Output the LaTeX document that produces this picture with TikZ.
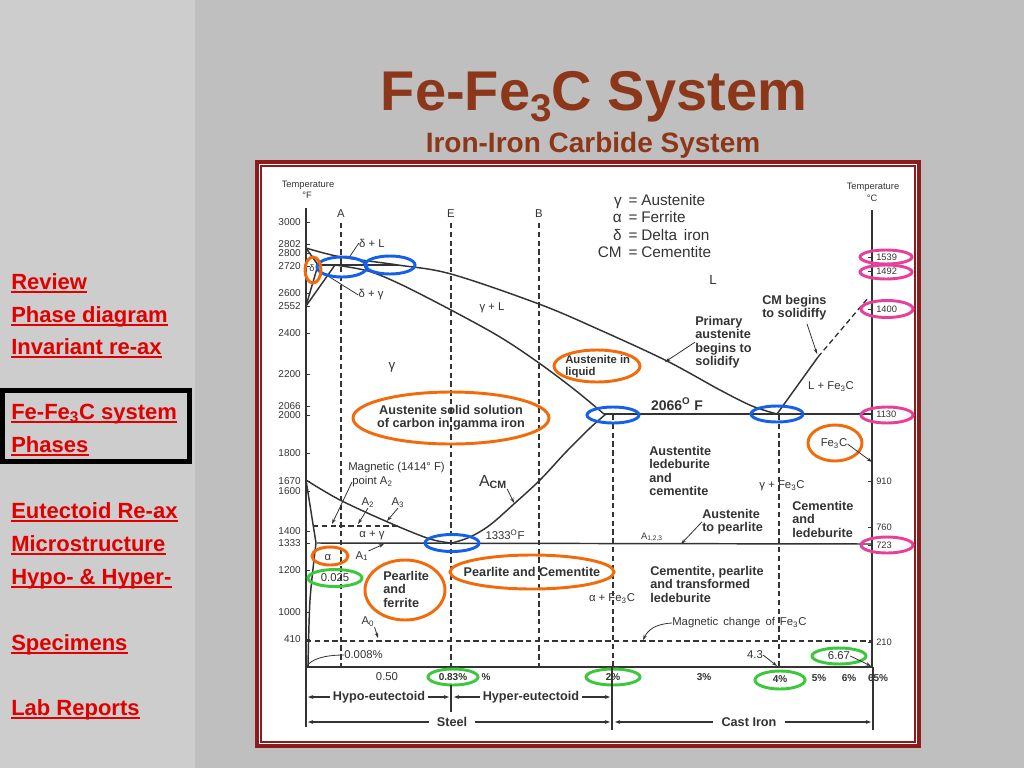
\documentclass[tikz,border=0pt]{standalone}
\usepackage{fontspec}
\setmainfont{Liberation Sans}
\usetikzlibrary{arrows.meta}
\definecolor{bgmain}{HTML}{BFBFBF}
\definecolor{bgside}{HTML}{CDCDCD}
\definecolor{titlec}{HTML}{8C3719}
\definecolor{linkc}{HTML}{E00000}
\definecolor{framec}{HTML}{8E1B1B}
\definecolor{ink}{HTML}{333333}
\definecolor{orng}{HTML}{F26A0A}
\definecolor{blu}{HTML}{1560E8}
\definecolor{grn}{HTML}{3CC83C}
\definecolor{pnk}{HTML}{E8409A}
\begin{document}
\begin{tikzpicture}[x=0.75pt,y=-0.75pt,
  link/.style={font=\fontsize{16.5}{18}\selectfont\bfseries, text=linkc, anchor=base west, inner sep=0},
  curve/.style={draw=ink, line width=1.1pt},
  axisln/.style={draw=ink, line width=1pt},
  dline/.style={draw=ink, line width=0.9pt, dash pattern=on 4pt off 2.6pt},
  tx/.style={text=ink, inner sep=0, font=\fontsize{8.5}{10}\selectfont},
  txs/.style={text=ink, inner sep=0, font=\fontsize{7}{8}\selectfont},
  tnum/.style={text=ink, inner sep=0, font=\fontsize{7.5}{8}\selectfont},
  bx/.style={text=ink, inner sep=0, align=left, font=\fontsize{9.5}{10}\selectfont\bfseries},
  bxc/.style={text=ink, inner sep=0, align=center, font=\fontsize{9.5}{9.6}\selectfont\bfseries},
  pct/.style={text=ink, inner sep=0, font=\fontsize{7.5}{8}\selectfont\bfseries},
  leg/.style={text=ink, inner sep=0, font=\fontsize{11.5}{12}\selectfont},
  lead/.style={draw=ink, line width=0.6pt, -{Stealth[length=4pt,width=2.6pt]}},
  barr/.style={draw=ink, line width=0.8pt, -{Stealth[length=4pt,width=3pt]}},
  ringo/.style={draw=orng, line width=2.2pt},
  ringb/.style={draw=blu, line width=2.2pt},
  ringg/.style={draw=grn, line width=2.2pt},
  ringp/.style={draw=pnk, line width=2.2pt}]
\useasboundingbox (0,0) rectangle (1024,768);
% background
\fill[bgmain] (0,0) rectangle (1024,768);
\fill[bgside] (0,0) rectangle (195,768);

% title
\node[font=\fontsize{42}{48}\selectfont\bfseries, text=titlec, anchor=base, inner sep=0] (title) at (594,110) {Fe-Fe\raisebox{-0.2em}{\fontsize{29}{30}\selectfont 3}C System};
\node[font=\fontsize{21}{24}\selectfont\bfseries, text=titlec, anchor=base, inner sep=0] (subtitle) at (593,152) {Iron-Iron Carbide System};

% sidebar
\node[link] (l1) at (11,289) {Review};
\node[link] (l2) at (11,322) {Phase diagram};
\node[link] (l3) at (11,354) {Invariant re-ax};
\node[link] (l4) at (11,419) {Fe-Fe\textsubscript{3}C system};
\node[link] (l5) at (11,452) {Phases};
\node[link] (l6) at (11,518) {Eutectoid Re-ax};
\node[link] (l7) at (11,551) {Microstructure};
\node[link] (l8) at (11,584) {Hypo- \& Hyper-};
\node[link] (l9) at (11,650) {Specimens};
\node[link] (l10) at (11,715) {Lab Reports};
\foreach \n in {l1,l2,l3,l4,l5,l6,l7,l8,l9,l10}
  \draw[linkc, line width=1.5pt] ([yshift=-2.3pt]\n.base west) -- ([yshift=-2.3pt]\n.base east);
\draw[black, line width=3.8pt] (2.5,390.5) rectangle (189.5,461.5);

% frame
\fill[white] (257,162) rectangle (919,746);
\draw[framec, line width=2.3pt] (257,162) rectangle (919,746);
\draw[framec, line width=2pt] (261,166) rectangle (915,742);

% axes
\draw[axisln] (306,208) -- (306,667) -- (873,667);
\draw[axisln] (872,210) -- (872,667);
\node[txs] (tf1) at (308,185) {Temperature};
\node[txs] (tf2) at (307,195) {°F};
\node[txs] (tc1) at (873,187) {Temperature};
\node[txs] (tc2) at (872,198) {°C};
\foreach \v/\y in {3000/222,2802/244,2800/253,2720/266,2600/293,2552/306,2400/333,2200/374,2066/406,2000/415,1800/453,1670/481,1600/491,1400/531,1333/543,1200/570,1000/612,410/639}{
  \draw[ink, line width=0.6pt] (306,\y) -- (310,\y);
  \node[tnum, anchor=east] at (301,\y) {\v};
}
\foreach \v/\y in {1539/257,1492/271,1400/309,1130/414,910/481,760/527,723/545,210/642}{
  \draw[ink, line width=0.6pt] (868,\y) -- (872,\y);
  \node[txs, anchor=west] at (876,\y) {\v};
}

% legend
\node[leg, anchor=base east] (lg1) at (622,205) {γ};
\node[leg, anchor=base] (lg1e) at (633,205) {=};
\node[leg, anchor=base west] (lg1t) at (641,205) {Austenite};
\node[leg, anchor=base east] (lg2) at (622,222) {α};
\node[leg, anchor=base] (lg2e) at (633,222) {=};
\node[leg, anchor=base west] (lg2t) at (641,222) {Ferrite};
\node[leg, anchor=base east] (lg3) at (622,240) {δ};
\node[leg, anchor=base] (lg3e) at (633,240) {=};
\node[leg, anchor=base west] (lg3t) at (641,240) {Delta\, iron};
\node[leg, anchor=base east] (lg4) at (622,257) {CM};
\node[leg, anchor=base] (lg4e) at (633,257) {=};
\node[leg, anchor=base west] (lg4t) at (641,257) {Cementite};

% vertical dashed lines
\node[tx] (la) at (341,214) {A};
\node[tx] (le) at (451,214) {E};
\node[tx] (lb) at (539,214) {B};
\draw[dline] (341,223) -- (341,667);
\draw[dline] (451,223) -- (451,667);
\draw[dline] (539,223) -- (539,667);
\draw[dline] (613,415) -- (613,667);
\draw[dline] (779,415) -- (779,667);
% horizontal dashed
\draw[dline] (313,526) -- (400,526);
\draw[dline] (306,641) -- (872,641);

% solid horizontals
\draw[curve] (317,543) -- (872,544);
\draw[curve] (604,414) -- (872,414);
\draw[curve] (318,265) -- (398,265);

% curves
\draw[curve] plot[smooth, tension=0.55] coordinates {(306,248) (341,257) (398,265) (451,274) (539,304) (600,330) (667,361) (720,390) (752,406) (777,414)};
\draw[curve] plot[smooth, tension=0.55] coordinates {(335,265) (368,271) (400,284) (451,310) (500,337) (539,363) (575,390) (604,414)};
\draw[curve] (306,248) -- (318,265);
\draw[curve] (306,306) -- (318,265);
\draw[curve] (306,306) -- (335,265);
\draw[curve] plot[smooth, tension=0.55] coordinates {(306,480) (340,500) (390,523) (430,539) (452,543)};
\draw[curve] (306,480) -- (316,543);
\draw[curve] plot[smooth, tension=0.5] coordinates {(316,543) (310,600) (308,667)};
\draw[curve] plot[smooth, tension=0.55] coordinates {(452,543) (470,537) (490,525) (515,503) (540,480) (566,452) (590,428) (606,414)};
\draw[curve] (777,414) -- (818,357);
\draw[dline, line width=1pt] (818,357) -- (868,298);

% phase labels
\node[tx] (dl) at (372,243) {δ + L};
\coordinate (dlto) at (348,259);
\draw[ink, line width=0.6pt] (dl.west) -- (dlto);
\node[tx] (dg) at (371,295) {δ + γ};
\coordinate (dgto) at (328,276);
\draw[ink, line width=0.6pt] (dg.west) -- (dgto);
\node[txs] (dd) at (312,268) {δ};
\node[tx, font=\fontsize{10}{11}\selectfont] (liq) at (713,280) {L};
\node[tx] (gl) at (492,308) {γ + L};
\node[tx, font=\fontsize{10}{11}\selectfont] (gam) at (392,367) {γ};

% annotations
\node[bx, anchor=north west] (prim) at (695,316) {Primary\\austenite\\begins to\\solidify};
\coordinate (primto) at (665,362);
\draw[lead] (prim.west) -- (primto);
\node[bx, anchor=north west] (cmb) at (762,295) {CM begins\\to solidiffy};
\coordinate (cmbfrom) at (807,324);
\coordinate (cmbto) at (817,354);
\draw[lead] (cmbfrom) -- (cmbto);
\node[tx] (lfe) at (831,387) {L + Fe\textsubscript{3}C};
\node[tx, font=\fontsize{10.5}{11}\selectfont\bfseries] (t2066) at (677,404) {2066\textsuperscript{O} F};
\node[bx, font=\fontsize{8.5}{9}\selectfont\bfseries, anchor=north west] (ail) at (565,355) {Austenite in\\liquid};
\draw[ringo] (597,366) ellipse [x radius=43, y radius=16];
\node[bxc] (ass) at (451,418) {Austenite solid solution\\of carbon in gamma iron};
\draw[ringo] (451,418) ellipse [x radius=98, y radius=26];

\node[tx] (fe3c) at (834,444) {Fe\textsubscript{3}C};
\draw[ringo] (835,443) ellipse [x radius=27, y radius=18];
\coordinate (fe3cto) at (872,462);
\draw[lead] (fe3c.east) -- (fe3cto);

\node[bx, anchor=north west] (alc) at (649,446) {Austentite\\ledeburite\\and\\cementite};
\node[tx] (gfe) at (782,486) {γ + Fe\textsubscript{3}C};
\node[bx, anchor=north west] (cal) at (792,501) {Cementite\\and\\ledeburite};
\node[bx, anchor=north west] (atp) at (702,509) {Austenite\\to pearlite};
\coordinate (atpto) at (681,544);
\draw[lead] (atp.west) -- (atpto);
\node[txs] (a123) at (652,537) {A\textsubscript{1,2,3}};

\node[tx, anchor=west] (mag1) at (348,468) {Magnetic (1414° F)};
\node[tx, anchor=west] (mag2) at (352,482) {point A\textsubscript{2}};
\coordinate (magto) at (332,524);
\draw[lead] (mag2.west) -- (magto);
\node[tx] (a2) at (368,503) {A\textsubscript{2}};
\coordinate (a2to) at (358,524);
\draw[lead] (a2.south) -- (a2to);
\node[tx] (a3) at (398,503) {A\textsubscript{3}};
\coordinate (a3to) at (387,521);
\draw[lead] (a3.south) -- (a3to);
\node[tx] (ag) at (372,535) {α + γ};
\node[tx] (a1) at (362,556) {A\textsubscript{1}};
\coordinate (a1to) at (384,544);
\draw[lead] (a1.north east) -- (a1to);
\node[tx] (alf) at (328,557) {α};
\draw[ringo] (330,556) ellipse [x radius=18, y radius=9];
\node[tx] (p025) at (335,578) {0.025};
\draw[ringg] (335,578) ellipse [x radius=27, y radius=8.5];

\node[tx, font=\fontsize{12}{13}\selectfont] (acm) at (493,482) {A\textsubscript{\bfseries CM}};
\coordinate (acmto) at (514,503);
\draw[lead] (acm.south east) -- (acmto);
\node[tx] (t1333) at (505,535) {1333\textsuperscript{O}F};
\draw[ringb] (452,543) ellipse [x radius=27, y radius=8.5];

\node[bx, anchor=north west] (pf) at (383,571) {Pearlite\\and\\ferrite};
\draw[ringo] (405,590) ellipse [x radius=40, y radius=30];
\node[bx] (pc) at (532,572) {Pearlite and Cementite};
\draw[ringo] (532,572) ellipse [x radius=82, y radius=17];
\node[tx] (afe) at (612,599) {α + Fe\textsubscript{3}C};
\node[bx, anchor=north west] (cpt) at (650,566) {Cementite, pearlite\\and transformed\\ledeburite};

\node[tx] (a0) at (368,622) {A\textsubscript{0}};
\coordinate (a0to) at (378,638);
\draw[lead] (a0.south east) -- (a0to);
\node[tx, anchor=west] (mcf) at (672,623) {Magnetic\, change\, of\, Fe\textsubscript{3}C};
\coordinate (mcfto) at (643,640);
\draw[lead] (mcf.west) .. controls (655,624) and (648,630) .. (mcfto);

\node[tx, anchor=west] (p008) at (344,655) {0.008\%};
\coordinate (p008to) at (307,666);
\draw[ink, line width=0.6pt] (p008.west) .. controls (322,655) and (311,660) .. (p008to);
\node[tx] (p43) at (755,655) {4.3};
\coordinate (p43to) at (777,666);
\draw[lead] (p43.east) -- (p43to);
\node[tx] (p667) at (839,656) {6.67};
\draw[ringg] (839,656) ellipse [x radius=27, y radius=8];
\coordinate (p667to) at (871,666);
\draw[lead] (p667.east) -- (p667to);

% blue and pink rings
\draw[ringb] (342,267) ellipse [x radius=25, y radius=10];
\draw[ringb] (390,265) ellipse [x radius=25, y radius=9];
\draw[ringb] (613,415) ellipse [x radius=26, y radius=8];
\draw[ringb] (777,414) ellipse [x radius=26, y radius=8];
\draw[ringo] (313,270) ellipse [x radius=8, y radius=13];
\draw[ringp] (886,257) ellipse [x radius=26, y radius=7];
\draw[ringp] (886,272) ellipse [x radius=26, y radius=7];
\draw[ringp] (887,309) ellipse [x radius=26, y radius=8.5];
\draw[ringp] (887,415) ellipse [x radius=26, y radius=8];
\draw[ringp] (887,545) ellipse [x radius=26, y radius=8];

% bottom scale
\node[tx] (b050) at (387,677) {0.50};
\node[pct] (b083) at (453,677) {0.83\%};
\draw[ringg] (453,677) ellipse [x radius=25, y radius=8];
\node[pct] (b1) at (486,677) {\%};
\node[pct] (b2) at (613,677) {2\%};
\draw[ringg] (613,677) ellipse [x radius=27, y radius=8];
\node[pct] (b3) at (704,677) {3\%};
\node[pct] (b4) at (780,679) {4\%};
\draw[ringg] (780,680) ellipse [x radius=25, y radius=9];
\node[pct] (b5) at (819,678) {5\%};
\node[pct] (b6) at (849,678) {6\%};
\node[pct] (b65) at (878,678) {65\%};

\draw[ink, line width=0.9pt] (306,667) -- (306,727);
\draw[ink, line width=0.9pt] (451,685) -- (451,712);
\draw[ink, line width=0.9pt] (612,667) -- (612,730);
\draw[ink, line width=0.9pt] (873,667) -- (873,730);

\node[bx, inner xsep=2pt] (hypo) at (379,697) {Hypo-eutectoid};
\coordinate (hypoL) at (308,697);
\coordinate (hypoR) at (449,697);
\draw[barr] (hypo.west) -- (hypoL);
\draw[barr] (hypo.east) -- (hypoR);
\node[bx, inner xsep=2pt] (hyper) at (531,697) {Hyper-eutectoid};
\coordinate (hyperL) at (454,697);
\coordinate (hyperR) at (610,697);
\draw[barr] (hyper.west) -- (hyperL);
\draw[barr] (hyper.east) -- (hyperR);
\node[bx, inner xsep=6pt] (steel) at (452,722) {Steel};
\coordinate (steelL) at (308,722);
\coordinate (steelR) at (610,722);
\draw[barr] (steel.west) -- (steelL);
\draw[barr] (steel.east) -- (steelR);
\node[bx, inner xsep=6pt] (cast) at (749,722) {Cast Iron};
\coordinate (castL) at (615,722);
\coordinate (castR) at (871,722);
\draw[barr] (cast.west) -- (castL);
\draw[barr] (cast.east) -- (castR);
\end{tikzpicture}
\end{document}
